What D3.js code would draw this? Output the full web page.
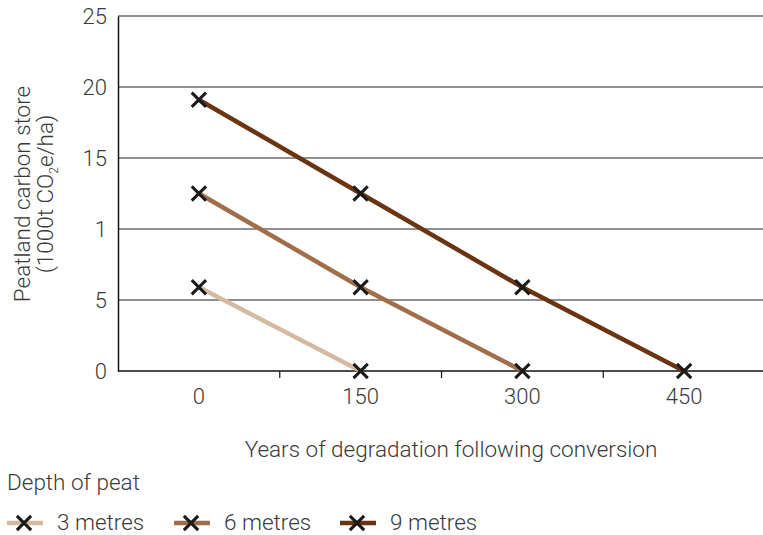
<!DOCTYPE html>
<html>
<head>
<meta charset="utf-8">
<script src="https://cdn.jsdelivr.net/npm/d3@7"></script>
<style>
  html, body { margin: 0; padding: 0; background: #fff; }
  text { font-family: Roboto, "Liberation Sans", sans-serif; font-weight: 300; fill: #3a3a3a; }
</style>
</head>
<body>
<svg id="chart" width="763" height="535"></svg>
<script>
// Years after conversion (categories on the x axis)
const years = ["0", "150", "300", "450"];
// Carbon store (1000t CO2e/ha) for each peat depth
const series3m = [5.9, 0];
const series6m = [12.5, 5.9, 0];
const series9m = [19.1, 12.5, 5.9, 0];
const seriesNames = ["3 metres", "6 metres", "9 metres"];
const seriesColors = ["#d3baa3", "#a06e4b", "#6a3413"];
// Y tick values and their printed labels
const yTickValues = [0, 5, 10, 15, 20, 25];
const yTickLabels = ["0", "5", "1", "15", "20", "25"];

const svg = d3.select("#chart");
const plotLeft = 118, plotRight = 765, plotTop = 16, plotBottom = 371;
const fontSize = "22px";
const titleSize = "22.5px";

const x = d3.scaleBand().domain(years).range([plotLeft, plotRight]);
const y = d3.scaleLinear().domain([0, 25]).range([plotBottom, plotTop]);

// Horizontal gridlines
svg.append("g").selectAll("line").data(yTickValues.slice(1)).join("line")
  .attr("x1", plotLeft).attr("x2", 763)
  .attr("y1", d => y(d)).attr("y2", d => y(d))
  .attr("stroke", "#222").attr("stroke-width", 1.2);

// Y axis
const yAxis = svg.append("g").attr("transform", `translate(${plotLeft},0)`)
  .call(d3.axisLeft(y).tickValues(yTickValues).tickSize(0).tickPadding(11)
    .tickFormat((d, i) => yTickLabels[i]));
yAxis.select(".domain").attr("stroke", "#111").attr("stroke-width", 1.5);
yAxis.selectAll("text").style("font-size", fontSize)
  .style("font-family", "Roboto, sans-serif").style("font-weight", 300).attr("fill", "#3a3a3a");

// X axis with ticks between categories
const xAxis = svg.append("g").attr("transform", `translate(0,${plotBottom})`);
xAxis.append("line").attr("x1", plotLeft).attr("x2", 763).attr("y1", 0).attr("y2", 0)
  .attr("stroke", "#111").attr("stroke-width", 1.5);
xAxis.selectAll(".tk").data(years.slice(1)).join("line").attr("class", "tk")
  .attr("x1", d => x(d)).attr("x2", d => x(d)).attr("y1", 0).attr("y2", 7)
  .attr("stroke", "#111").attr("stroke-width", 1.2);
xAxis.selectAll(".lb").data(years).join("text").attr("class", "lb")
  .attr("x", d => x(d) + x.bandwidth() / 2).attr("y", 33)
  .attr("text-anchor", "middle").style("font-size", fontSize)
  .text(d => d);

// Axis titles
const yt = svg.append("text").attr("transform", "translate(30,194) rotate(-90)")
  .attr("text-anchor", "middle").style("font-size", titleSize);
yt.append("tspan").attr("x", 0).attr("y", 0).text("Peatland carbon store");
const yt2 = yt.append("tspan").attr("x", 0).attr("y", 23);
yt2.append("tspan").text("(1000t CO");
yt2.append("tspan").attr("dy", 5).style("font-size", "12px").text("2");
yt2.append("tspan").attr("dy", -5).text("e/ha)");

svg.append("text").attr("x", 451).attr("y", 457).attr("text-anchor", "middle")
  .style("font-size", titleSize).text("Years of degradation following conversion");

// Lines and cross markers
const allSeries = [series3m, series6m, series9m];
const line = d3.line().x((d, i) => x(years[i]) + x.bandwidth() / 2).y(d => y(d));
const cross = d3.symbol().type(d3.symbolX).size(135);

allSeries.forEach((vals, s) => {
  svg.append("path").datum(vals).attr("d", line)
    .attr("fill", "none").attr("stroke", seriesColors[s]).attr("stroke-width", 4.5);
});
allSeries.forEach(vals => {
  svg.append("g").selectAll("path").data(vals).join("path")
    .attr("transform", (d, i) => `translate(${x(years[i]) + x.bandwidth() / 2},${y(d)})`)
    .attr("d", cross).attr("fill", "none").attr("stroke", "#1a1a1a").attr("stroke-width", 3);
});

// Legend
svg.append("text").attr("x", 7).attr("y", 490).style("font-size", titleSize).text("Depth of peat");
const legendX = [7, 174, 340];
seriesNames.forEach((name, s) => {
  const g = svg.append("g").attr("transform", `translate(${legendX[s]},523)`);
  g.append("line").attr("x1", 0).attr("x2", 36).attr("y1", 0).attr("y2", 0)
    .attr("stroke", seriesColors[s]).attr("stroke-width", 4.5);
  g.append("path").attr("transform", "translate(17,0)").attr("d", cross)
    .attr("fill", "none").attr("stroke", "#1a1a1a").attr("stroke-width", 3);
  g.append("text").attr("x", 50).attr("y", 7).style("font-size", titleSize).text(name);
});
</script>
</body>
</html>
